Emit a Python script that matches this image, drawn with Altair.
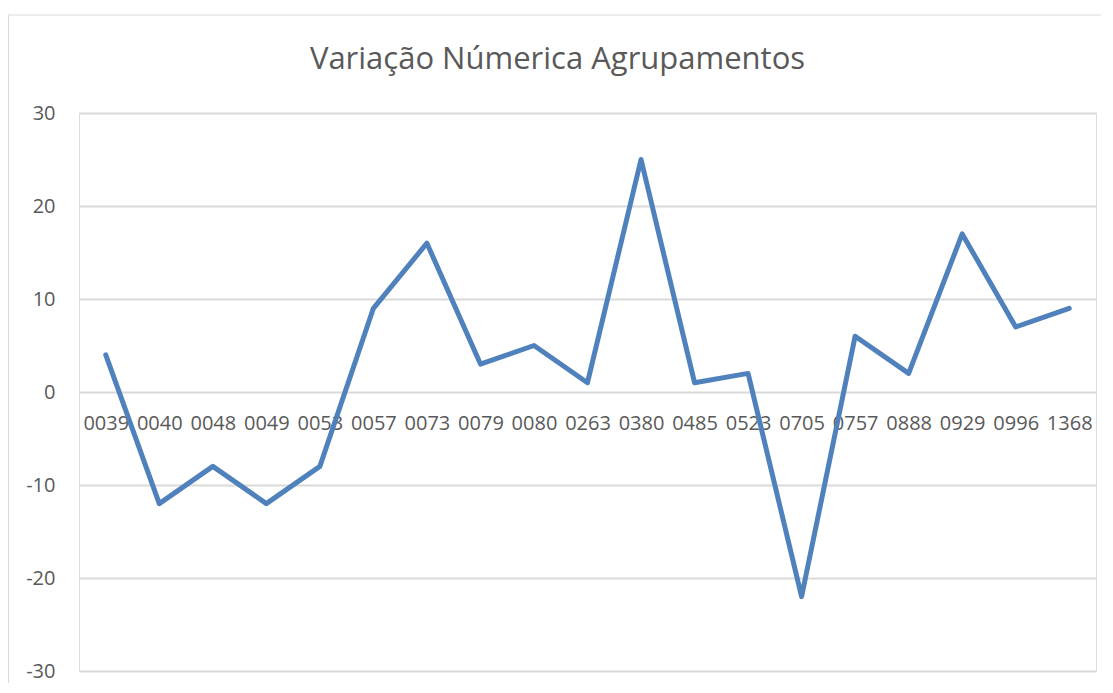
import altair as alt
import pandas as pd

categories = ["0039", "0040", "0048", "0049", "0053", "0057", "0073", "0079", "0080",
              "0263", "0380", "0485", "0523", "0705", "0757", "0888", "0929", "0996", "1368"]
values = [4, -12, -8, -12, -8, 9, 16, 3, 5, 1, 25, 1, 2, -22, 6, 2, 17, 7, 9]
y_ticks = [-30, -20, -10, 0, 10, 20, 30]
title_text = "Variação Númerica Agrupamentos"

df = pd.DataFrame({"cat": categories, "val": values})

W, H = 1017, 558
FONT = "Open Sans"
GRAY = "#595959"
GRID = "#d9d9d9"

line = alt.Chart(df).mark_line(
    color="#4f81bd", strokeWidth=5, strokeJoin="round", strokeCap="round"
).encode(
    x=alt.X("cat:N", sort=categories, title=None,
            scale=alt.Scale(type="point", padding=0.5),
            axis=alt.Axis(domain=False, ticks=False, tickSize=0, grid=False,
                          labelAngle=0, labelFont=FONT, labelFontSize=20,
                          labelColor=GRAY, labelBaseline="alphabetic",
                          labelPadding=37, offset=-(H / 2), labelOverlap=False)),
    y=alt.Y("val:Q", title=None,
            scale=alt.Scale(domain=[-30, 30], nice=False, zero=False),
            axis=alt.Axis(values=y_ticks, domain=False, ticks=False, tickSize=0,
                          grid=True, gridColor=GRID, gridWidth=1.8,
                          labelExpr="'' + datum.value",
                          labelFont=FONT, labelFontSize=20, labelColor=GRAY,
                          labelPadding=24, labelAlign="right", labelBaseline="middle")),
)

one = pd.DataFrame({"a": [0]})
title = alt.Chart(one).mark_text(
    text=title_text, font=FONT, fontSize=31, color=GRAY,
    align="center", baseline="alphabetic"
).encode(x=alt.value(478.5), y=alt.value(-44))

border_left = alt.Chart(one).mark_rule(color=GRID, strokeWidth=1.2).encode(
    x=alt.value(-70.5), y=alt.value(-98), y2=alt.value(H + 20))
border_top = alt.Chart(one).mark_rule(color=GRID, strokeWidth=1.2).encode(
    x=alt.value(-71), x2=alt.value(W + 20), y=alt.value(-98))

chart = alt.layer(border_left, border_top, line, title).properties(
    width=W, height=H,
    autosize=alt.AutoSizeParams(type="none"),
    padding={"left": 71, "top": 105, "right": 5, "bottom": 12},
).configure_view(stroke=None).configure(background="white")

chart.save("out.html", embed_options={"renderer": "svg", "actions": False})
